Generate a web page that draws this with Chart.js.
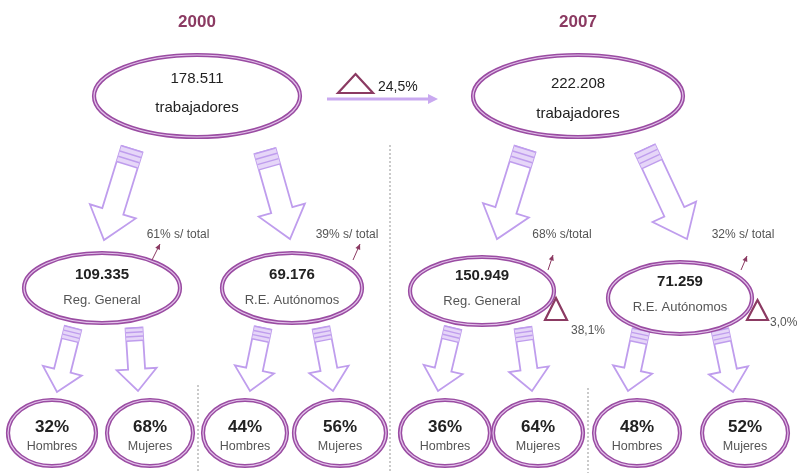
<!DOCTYPE html>
<html>
<head>
<meta charset="utf-8">
<script src="https://cdn.jsdelivr.net/npm/chart.js@4.4.0/dist/chart.umd.min.js"></script>
<style>
  body { margin: 0; background: #fff; }
</style>
</head>
<body>
<canvas id="diagram" width="800" height="473"></canvas>
<script>
// Data
const years = ["2000", "2007"];
const totals = [178511, 222208];
const totalGrowth = "24,5%";
const regimes = ["Reg. General", "R.E. Autónomos"];
const regimeWorkers = [[109335, 69176], [150949, 71259]];
const regimeShare = [["61% s/ total", "39% s/ total"], ["68% s/total", "32% s/ total"]];
const regimeGrowth = ["38,1%", "3,0%"];
const sexes = ["Hombres", "Mujeres"];
const sexShare = [[[32, 68], [44, 56]], [[36, 64], [48, 52]]];

// Layout of the diagram, in axis units (x 0..800, y 0..473 top-down)
const titlePos = [[197, 22], [578, 22]];
const topNode = [[197, 96, 103, 41, 79, 108], [578, 96, 105, 41, 84, 114]];
const midNode = [
  [[102, 288, 78, 35, 275, 300], [292, 288, 70, 35, 275, 300]],
  [[482, 291, 72, 34, 276, 301], [680, 298, 72, 36, 282, 307]]
];
const bottomNode = [
  [[[52, 433, 44, 33], [150, 433, 43, 33]], [[245, 433, 42, 33], [340, 433, 46, 33]]],
  [[[445, 433, 45, 33], [538, 433, 45, 33]], [[637, 433, 43, 33], [745, 433, 43, 33]]]
];
const bigArrows = [
  [[132, 149, 104, 240], [265, 151, 290, 239]],
  [[525, 149, 497, 239], [645, 149, 687, 239]]
];
const smallArrows = [
  [[[73, 328, 57, 392], [134, 328, 138, 391]], [[263, 328, 250, 391], [321, 328, 333, 391]]],
  [[[453, 328, 438, 391], [523, 328, 532, 391]], [[641, 330, 628, 391], [720, 330, 733, 392]]]
];
const sharePos = [
  [[178, 235, 152, 260, 160, 244], [347, 235, 353, 260, 360, 244]],
  [[562, 235, 548, 270, 553, 255], [743, 235, 741, 270, 747, 256]]
];
const growthPos = [[545, 298, 22, 22, 588, 331, "center"], [747, 300, 21, 20, 770, 323, "left"]];
const dividers = [[390, 145, 473], [198, 385, 473], [588, 388, 473]];

function fmt(n) {
  return String(n).replace(/\B(?=(\d{3})+(?!\d))/g, ".");
}

const FONT = "'Liberation Sans', Arial, sans-serif";
const PURPLE = "#9a4ca2";
const LAVENDER = "#bf9ded";
const WINE = "#8b3a62";

const diagramPlugin = {
  id: "diagram",
  afterDraw(chart) {
    const ctx = chart.ctx;
    const sx = chart.scales.x, sy = chart.scales.y;
    const X = v => sx.getPixelForValue(v);
    const Y = v => sy.getPixelForValue(v);
    const W = v => X(v) - X(0);
    const H = v => Y(v) - Y(0);

    function text(str, x, y, size, color, bold, align) {
      ctx.font = (bold ? "bold " : "") + size + "px " + FONT;
      ctx.fillStyle = color;
      ctx.textAlign = align || "center";
      ctx.textBaseline = "middle";
      ctx.fillText(str, X(x), Y(y));
    }

    function ellipse(cx, cy, rx, ry) {
      ctx.save();
      ctx.beginPath();
      ctx.ellipse(X(cx), Y(cy), W(rx), H(ry), 0, 0, Math.PI * 2);
      ctx.fillStyle = "#fff";
      ctx.fill();
      ctx.lineWidth = 4.2;
      ctx.strokeStyle = PURPLE;
      ctx.stroke();
      ctx.lineWidth = 1.2;
      ctx.strokeStyle = "#e2c2ea";
      ctx.stroke();
      ctx.restore();
    }

    function hollowArrow(a, shaft, head, headLen) {
      const x1 = X(a[0]), y1 = Y(a[1]), x2 = X(a[2]), y2 = Y(a[3]);
      const len = Math.hypot(x2 - x1, y2 - y1);
      const dx = (x2 - x1) / len, dy = (y2 - y1) / len;
      const nx = -dy, ny = dx;
      const bx = x2 - dx * headLen, by = y2 - dy * headLen;
      const p = (x, y, k) => [x + nx * k, y + ny * k];
      const pts = [
        p(x1, y1, shaft / 2), p(bx, by, shaft / 2), p(bx, by, head / 2), [x2, y2],
        p(bx, by, -head / 2), p(bx, by, -shaft / 2), p(x1, y1, -shaft / 2)
      ];
      ctx.save();
      ctx.beginPath();
      pts.forEach((q, i) => i ? ctx.lineTo(q[0], q[1]) : ctx.moveTo(q[0], q[1]));
      ctx.closePath();
      ctx.fillStyle = "#fff";
      ctx.fill();
      ctx.lineWidth = 1.8;
      ctx.strokeStyle = LAVENDER;
      ctx.stroke();
      // striped tail
      const stripe = shaft * 0.75;
      ctx.beginPath();
      const t0 = p(x1, y1, shaft / 2), t1 = p(x1, y1, -shaft / 2);
      const e0 = p(x1 + dx * stripe, y1 + dy * stripe, shaft / 2);
      const e1 = p(x1 + dx * stripe, y1 + dy * stripe, -shaft / 2);
      ctx.moveTo(t0[0], t0[1]); ctx.lineTo(e0[0], e0[1]); ctx.lineTo(e1[0], e1[1]); ctx.lineTo(t1[0], t1[1]);
      ctx.closePath();
      ctx.fillStyle = "#e6d6f8";
      ctx.fill();
      ctx.lineWidth = 1.4;
      ctx.strokeStyle = LAVENDER;
      for (let k = 0; k <= 3; k++) {
        const d = stripe * k / 3;
        const a0 = p(x1 + dx * d, y1 + dy * d, shaft / 2);
        const a1 = p(x1 + dx * d, y1 + dy * d, -shaft / 2);
        ctx.beginPath();
        ctx.moveTo(a0[0], a0[1]);
        ctx.lineTo(a1[0], a1[1]);
        ctx.stroke();
      }
      ctx.restore();
    }

    function pointer(x1, y1, x2, y2) {
      const ax = X(x1), ay = Y(y1), bx = X(x2), by = Y(y2);
      ctx.save();
      ctx.strokeStyle = WINE;
      ctx.fillStyle = WINE;
      ctx.lineWidth = 1;
      ctx.beginPath();
      ctx.moveTo(ax, ay);
      ctx.lineTo(bx, by);
      ctx.stroke();
      const ang = Math.atan2(by - ay, bx - ax);
      ctx.beginPath();
      ctx.moveTo(bx, by);
      ctx.lineTo(bx - 6 * Math.cos(ang - 0.45), by - 6 * Math.sin(ang - 0.45));
      ctx.lineTo(bx - 6 * Math.cos(ang + 0.45), by - 6 * Math.sin(ang + 0.45));
      ctx.closePath();
      ctx.fill();
      ctx.restore();
    }

    function delta(x, y, w, h) {
      ctx.save();
      ctx.beginPath();
      ctx.moveTo(X(x + w / 2), Y(y));
      ctx.lineTo(X(x + w), Y(y + h));
      ctx.lineTo(X(x), Y(y + h));
      ctx.closePath();
      ctx.lineWidth = 2.2;
      ctx.strokeStyle = WINE;
      ctx.stroke();
      ctx.restore();
    }

    // dotted dividers
    ctx.save();
    ctx.setLineDash([2, 2]);
    ctx.strokeStyle = "#a8a8a8";
    ctx.lineWidth = 1.2;
    dividers.forEach(d => {
      ctx.beginPath();
      ctx.moveTo(X(d[0]), Y(d[1]));
      ctx.lineTo(X(d[0]), Y(d[2]));
      ctx.stroke();
    });
    ctx.restore();

    // growth arrow between years
    ctx.save();
    ctx.strokeStyle = "#c9a9f0";
    ctx.fillStyle = "#c9a9f0";
    ctx.lineWidth = 3;
    ctx.beginPath();
    ctx.moveTo(X(327), Y(99));
    ctx.lineTo(X(430), Y(99));
    ctx.stroke();
    ctx.beginPath();
    ctx.moveTo(X(438), Y(99));
    ctx.lineTo(X(428), Y(94));
    ctx.lineTo(X(428), Y(104));
    ctx.closePath();
    ctx.fill();
    ctx.restore();
    delta(338, 74, 35, 19);
    text(totalGrowth, 378, 87, 14, "#222", false, "left");

    years.forEach((yr, i) => {
      text(yr, titlePos[i][0], titlePos[i][1], 17, WINE, true);

      bigArrows[i].forEach(a => hollowArrow(a, 22, 48, 30));
      smallArrows[i].forEach(g => g.forEach(a => hollowArrow(a, 17, 40, 22)));

      const t = topNode[i];
      ellipse(t[0], t[1], t[2], t[3]);
      text(fmt(totals[i]), t[0], t[4], 15, "#222", false);
      text("trabajadores", t[0], t[5], 15, "#222", false);

      regimes.forEach((name, j) => {
        const m = midNode[i][j];
        ellipse(m[0], m[1], m[2], m[3]);
        text(fmt(regimeWorkers[i][j]), m[0], m[4], 15, "#222", true);
        text(name, m[0], m[5], 13, "#555", false);

        const s = sharePos[i][j];
        text(regimeShare[i][j], s[0], s[1], 12, "#555", false);
        pointer(s[2], s[3], s[4], s[5]);

        sexes.forEach((sx2, k) => {
          const b = bottomNode[i][j][k];
          ellipse(b[0], b[1], b[2], b[3]);
          text(sexShare[i][j][k] + "%", b[0], b[1] - 6, 17, "#222", true);
          text(sx2, b[0], b[1] + 14, 12.5, "#555", false);
        });
      });
    });

    // growth of each regime 2000 -> 2007
    regimeGrowth.forEach((g, j) => {
      const p = growthPos[j];
      delta(p[0], p[1], p[2], p[3]);
      text(g, p[4], p[5], 12, "#555", false, p[6]);
    });
  }
};

new Chart(document.getElementById("diagram"), {
  type: "scatter",
  data: {
    datasets: [{
      label: "nodos",
      data: topNode.map(t => ({ x: t[0], y: t[1] })),
      pointRadius: 0
    }]
  },
  options: {
    responsive: false,
    animation: false,
    layout: { padding: 0 },
    plugins: { legend: { display: false }, tooltip: { enabled: false } },
    scales: {
      x: { type: "linear", min: 0, max: 800, display: false },
      y: { type: "linear", min: 0, max: 473, reverse: true, display: false }
    }
  },
  plugins: [diagramPlugin]
});
</script>
</body>
</html>
